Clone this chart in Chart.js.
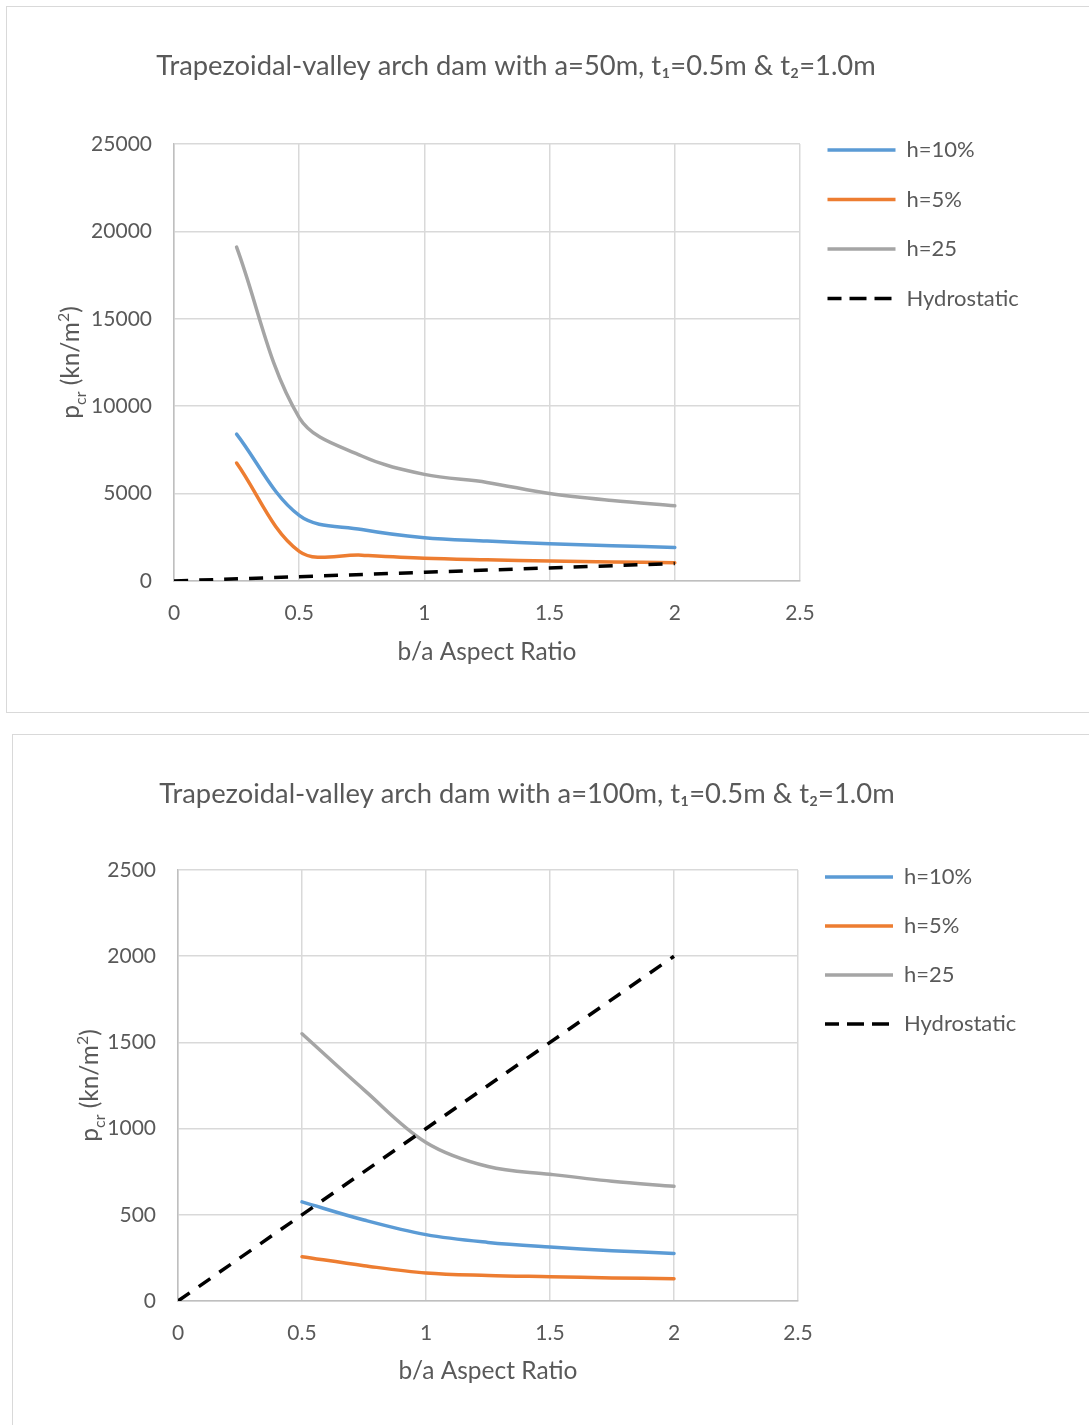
<!DOCTYPE html>
<html>
<head>
<meta charset="utf-8">
<title>Trapezoidal-valley arch dam buckling pressure</title>
<script src="https://cdn.jsdelivr.net/npm/chart.js@4.4.1/dist/chart.umd.min.js"></script>
<style>
  html, body { margin: 0; padding: 0; background: #fff; overflow: hidden; width: 1089px; height: 1425px; }
  .box { position: absolute; border: 1px solid #d9d9d9; background: #fff; overflow: hidden; }
  #box1 { left: 6px; top: 6px; width: 1200px; height: 705px; }
  #box2 { left: 12px; top: 734px; width: 1200px; height: 700px; }
  canvas { display: block; }
</style>
</head>
<body>
<div class="box" id="box1"><canvas id="c1" width="1075" height="705"></canvas></div>
<div class="box" id="box2"><canvas id="c2" width="1075" height="700"></canvas></div>
<script>
const FONT = 'Lato, "Open Sans", sans-serif';
const TEXT = '#595959';

// ---- a = 50 m ----
const ratio50   = [0.25, 0.5, 0.75, 1, 1.25, 1.5, 1.75, 2];
const h10_50    = [8400, 3750, 2950, 2480, 2290, 2130, 2020, 1920];
const h5_50     = [6750, 1700, 1480, 1300, 1210, 1140, 1090, 1050];
const h25_50    = [19100, 9350, 7150, 6100, 5640, 5000, 4600, 4300];
const hydroX_50 = [0, 2];
const hydro_50  = [0, 1000];

// ---- a = 100 m ----
const ratio100   = [0.5, 0.75, 1, 1.25, 1.5, 1.75, 2];
const h10_100    = [575, 470, 385, 340, 313, 292, 276];
const h5_100     = [257, 205, 162, 148, 141, 134, 129];
const h25_100    = [1550, 1225, 920, 780, 735, 695, 665];
const hydroX_100 = [0, 2];
const hydro_100  = [0, 2000];

// ---- labels ----
const seriesNames = ['h=10%', 'h=5%', 'h=25', 'Hydrostatic'];
const xTickLabels = ['0', '0.5', '1', '1.5', '2', '2.5'];
const yTickLabels50  = ['0', '5000', '10000', '15000', '20000', '25000'];
const yTickLabels100 = ['0', '500', '1000', '1500', '2000', '2500'];
const title50  = 'Trapezoidal-valley arch dam with a=50m, t\u2081=0.5m & t\u2082=1.0m';
const title100 = 'Trapezoidal-valley arch dam with a=100m, t\u2081=0.5m & t\u2082=1.0m';
const xTitle = 'b/a Aspect Ratio';

const COLORS = ['#5B9BD5', '#ED7D31', '#A5A5A5', '#000000'];

const pts = (xs, ys) => xs.map((x, i) => ({ x: x, y: ys[i] }));

// y-axis title "p_cr (kn/m^2)" with sub/superscript, drawn rotated
const yTitleRich = {
  id: 'yTitleRich',
  afterDraw(chart, args, opts) {
    const ctx = chart.ctx;
    const area = chart.chartArea;
    const size = opts.size;
    const parts = [
      { t: 'p', s: size, dy: 0 },
      { t: 'cr', s: size * 0.65, dy: size * 0.28 },
      { t: ' (kn/m', s: size, dy: 0 },
      { t: '2', s: size * 0.65, dy: -size * 0.42 },
      { t: ')', s: size, dy: 0 }
    ];
    ctx.save();
    ctx.translate(opts.x, (area.top + area.bottom) / 2);
    ctx.rotate(-Math.PI / 2);
    ctx.fillStyle = TEXT;
    ctx.textBaseline = 'alphabetic';
    ctx.textAlign = 'left';
    let total = 0;
    parts.forEach(p => { ctx.font = p.s + 'px ' + FONT; p.w = ctx.measureText(p.t).width; total += p.w; });
    let x = -total / 2;
    parts.forEach(p => {
      ctx.font = p.s + 'px ' + FONT;
      ctx.fillText(p.t, x, size * 0.36 + p.dy);
      x += p.w;
    });
    ctx.restore();
  }
};

function makeChart(id, cfg) {
  const datasets = [
    { label: seriesNames[0], data: pts(cfg.xs, cfg.h10), borderColor: COLORS[0], backgroundColor: COLORS[0], order: 4 },
    { label: seriesNames[1], data: pts(cfg.xs, cfg.h5),  borderColor: COLORS[1], backgroundColor: COLORS[1], order: 3 },
    { label: seriesNames[2], data: pts(cfg.xs, cfg.h25), borderColor: COLORS[2], backgroundColor: COLORS[2], order: 2 },
    { label: seriesNames[3], data: pts(cfg.hx, cfg.hy),  borderColor: COLORS[3], backgroundColor: COLORS[3], order: 1,
      borderDash: [14, 11], borderCapStyle: 'butt' }
  ];
  datasets.forEach(d => {
    d.borderWidth = 3.5;
    d.pointRadius = 0;
    d.pointHoverRadius = 0;
    d.tension = 0.35;
    d.fill = false;
    if (!d.borderCapStyle) d.borderCapStyle = 'round';
  });

  return new Chart(document.getElementById(id), {
    type: 'line',
    data: { datasets: datasets },
    plugins: [yTitleRich],
    options: {
      responsive: false,
      animation: false,
      devicePixelRatio: 1,
      layout: { padding: { left: cfg.padL, right: cfg.padR, top: 0, bottom: 0 } },
      scales: {
        x: {
          type: 'linear', min: 0, max: 2.5,
          afterFit: s => { s.height = cfg.xAxisH; },
          grid: { color: '#d9d9d9', lineWidth: 1.5, drawTicks: false },
          border: { color: '#bfbfbf', width: 1.5 },
          ticks: { stepSize: 0.5, padding: 20, maxRotation: 0, color: TEXT,
                   font: { family: FONT, size: 21 },
                   callback: (v, i) => xTickLabels[i] },
          title: { display: true, text: xTitle, color: TEXT,
                   font: { family: FONT, size: 24.5, lineHeight: 1.2 },
                   padding: { top: 0, bottom: cfg.xTitlePad } }
        },
        y: {
          type: 'linear', min: 0, max: cfg.yMax,
          afterFit: s => { s.width = cfg.yAxisW; },
          grid: { color: '#d9d9d9', lineWidth: 1.5, drawTicks: false },
          border: { color: '#bfbfbf', width: 1.5 },
          ticks: { stepSize: cfg.yStep, padding: 22, color: TEXT,
                   font: { family: FONT, size: 21 },
                   callback: (v, i) => cfg.yLabels[i] }
        }
      },
      plugins: {
        tooltip: { enabled: false },
        title: {
          display: true, text: cfg.title, color: TEXT,
          font: { family: FONT, size: 27.35, weight: 'normal', lineHeight: 1.2 },
          padding: { top: cfg.titlePadT, bottom: cfg.titlePadB }
        },
        legend: {
          position: 'right', align: 'start', maxWidth: 225,
          title: { display: true, text: '', font: { size: 12, lineHeight: 1 },
                   padding: { top: cfg.legendPadT, bottom: 0 } },
          labels: {
            boxWidth: 68, boxHeight: 0,
            padding: cfg.legendGap, color: TEXT,
            font: { family: FONT, size: 22 },
            sort: (a, b) => a.datasetIndex - b.datasetIndex
          }
        },
        yTitleRich: { x: cfg.yTitleX, size: 24.5 }
      }
    }
  });
}

makeChart('c1', {
  xs: ratio50, h10: h10_50, h5: h5_50, h25: h25_50, hx: hydroX_50, hy: hydro_50,
  yMax: 25000, yStep: 5000, yLabels: yTickLabels50, title: title50,
  padL: 0, padR: 57, yAxisW: 167, xAxisH: 131, xTitlePad: 45.3,
  titlePadT: 42.6, titlePadB: 61.6, legendPadT: 92.5, legendGap: 27.5, yTitleX: 63
});

makeChart('c2', {
  xs: ratio100, h10: h10_100, h5: h5_100, h25: h25_100, hx: hydroX_100, hy: hydro_100,
  yMax: 2500, yStep: 500, yLabels: yTickLabels100, title: title100,
  padL: 18, padR: 65, yAxisW: 147, xAxisH: 134, xTitlePad: 49.3,
  titlePadT: 42.6, titlePadB: 59.6, legendPadT: 92, legendGap: 27, yTitleX: 76
});
</script>
</body>
</html>
